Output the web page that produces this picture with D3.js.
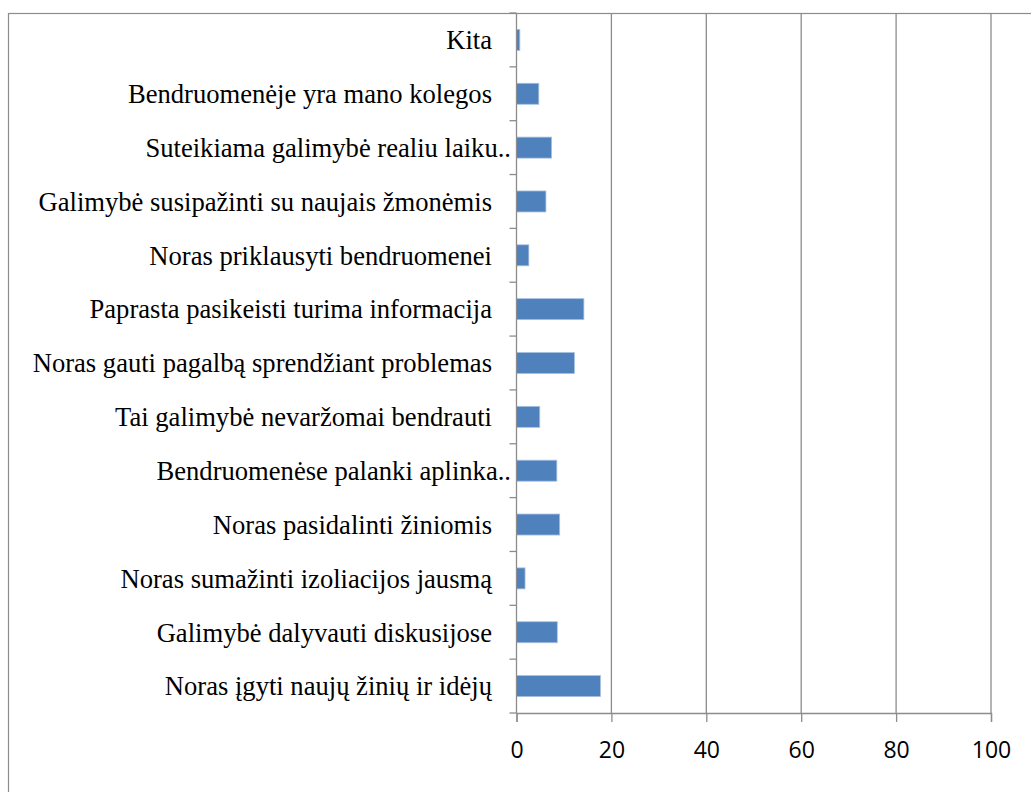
<!DOCTYPE html>
<html>
<head>
<meta charset="utf-8">
<script src="https://cdn.jsdelivr.net/npm/d3@7"></script>
<style>
  body { margin: 0; background: #fff; }
</style>
</head>
<body>
<script>
var w = 1031;
var h = 792;

// categories top to bottom, as in the picture
var categories = [
  "Kita",
  "Bendruomenėje yra mano kolegos",
  "Suteikiama galimybė realiu laiku..",
  "Galimybė susipažinti su naujais žmonėmis",
  "Noras priklausyti bendruomenei",
  "Paprasta pasikeisti turima informacija",
  "Noras gauti pagalbą sprendžiant problemas",
  "Tai galimybė nevaržomai bendrauti",
  "Bendruomenėse palanki aplinka..",
  "Noras pasidalinti žiniomis",
  "Noras sumažinti izoliacijos jausmą",
  "Galimybė dalyvauti diskusijose",
  "Noras įgyti naujų žinių ir idėjų"
];
var values = [0.7, 4.7, 7.4, 6.2, 2.6, 14.2, 12.2, 4.9, 8.5, 9.1, 1.8, 8.6, 17.7];
var xTicks = [0, 20, 40, 60, 80, 100];

var plotLeft = 516.5, plotRight = 991, plotTop = 13, plotBottom = 713;
var grey = "#8c8c8c";

var svg = d3.select("body").append("svg")
  .attr("width", w)
  .attr("height", h);

// outer frame (runs off the right and bottom edges)
svg.append("rect")
  .attr("x", 8.5).attr("y", 13.5)
  .attr("width", 1200).attr("height", 1200)
  .attr("fill", "none")
  .attr("stroke", grey)
  .attr("stroke-width", 1.2);

var xScale = d3.scaleLinear().domain([0, 100]).range([plotLeft, plotRight]);
var yScale = d3.scaleBand().domain(categories).range([plotTop, plotBottom])
  .paddingInner(0.61).paddingOuter(0.305);

// gridlines
svg.selectAll("line.grid")
  .data(xTicks.slice(1))
  .enter().append("line")
  .attr("class", "grid")
  .attr("x1", function(d) { return xScale(d); })
  .attr("x2", function(d) { return xScale(d); })
  .attr("y1", plotTop).attr("y2", plotBottom)
  .attr("stroke", grey).attr("stroke-width", 1.3);

// bars
svg.selectAll("rect.bar")
  .data(values)
  .enter().append("rect")
  .attr("class", "bar")
  .attr("x", xScale(0))
  .attr("y", function(d, i) { return yScale(categories[i]); })
  .attr("width", function(d) { return xScale(d) - xScale(0); })
  .attr("height", yScale.bandwidth())
  .attr("fill", "#4f81bd")
  .attr("stroke", "#a9c0e0")
  .attr("stroke-width", 0.8);

// x axis
var xAxis = d3.axisBottom(xScale).tickValues(xTicks).tickSize(9).tickPadding(20);
var gx = svg.append("g")
  .attr("transform", "translate(0," + plotBottom + ")")
  .call(xAxis);
gx.select(".domain").attr("stroke", grey).attr("stroke-width", 1.3);
gx.selectAll(".tick line").attr("stroke", grey).attr("stroke-width", 1.3);
gx.selectAll(".tick text")
  .attr("font-family", "'Open Sans', sans-serif")
  .attr("font-size", 23)
  .attr("fill", "#000");

// y axis line and ticks between categories
svg.append("line")
  .attr("x1", plotLeft).attr("x2", plotLeft)
  .attr("y1", plotTop).attr("y2", plotBottom)
  .attr("stroke", grey).attr("stroke-width", 1.3);

var step = yScale.step();
svg.selectAll("line.ytick")
  .data(d3.range(categories.length + 1))
  .enter().append("line")
  .attr("class", "ytick")
  .attr("x1", plotLeft - 7).attr("x2", plotLeft)
  .attr("y1", function(i) { return plotTop + i * step; })
  .attr("y2", function(i) { return plotTop + i * step; })
  .attr("stroke", grey).attr("stroke-width", 1.3);

// category labels
svg.selectAll("text.cat")
  .data(categories)
  .enter().append("text")
  .attr("class", "cat")
  .attr("x", function(d) { return d.slice(-2) == ".." ? 511 : 492; })
  .attr("y", function(d) { return yScale(d) + yScale.bandwidth() / 2; })
  .attr("dy", "0.35em")
  .attr("text-anchor", "end")
  .attr("font-family", "'Liberation Serif', 'Times New Roman', serif")
  .attr("font-size", 26.6)
  .attr("fill", "#000")
  .text(function(d) { return d; });
</script>
</body>
</html>
